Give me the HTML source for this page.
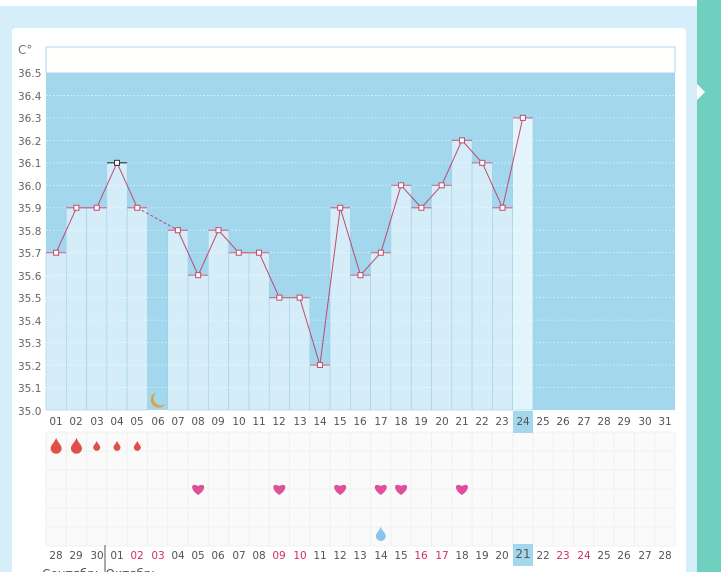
<!DOCTYPE html>
<html><head><meta charset="utf-8"><style>
html,body{margin:0;padding:0;background:#d6eef9;width:721px;height:572px;overflow:hidden;font-family:"DejaVu Sans","Liberation Sans",sans-serif;}
</style></head><body>
<svg id="s" width="721" height="572" xmlns="http://www.w3.org/2000/svg" style="position:absolute;left:0;top:0">
<rect x="0" y="0" width="721" height="572" fill="#d6eef9"/>
<rect x="0" y="0" width="721" height="6" fill="#ffffff"/>
<rect x="12" y="28" width="674" height="560" rx="4" fill="#ffffff"/>
<rect x="697" y="0" width="24" height="572" fill="#6fd0bf"/>
<polygon points="697,84 705,92 697,100" fill="#ffffff"/>
<rect x="46" y="47" width="629" height="26" fill="#fefefc" stroke="#a9d9ef" stroke-width="1"/>
<rect x="46" y="73" width="629" height="337" fill="#a2d7ee"/>
<rect x="46" y="432" width="629" height="114" fill="#fafafa"/>
<g id="g"></g>
<g font-size="10.5" fill="#666" font-family="DejaVu Sans, sans-serif">
<text x="18" y="54" font-size="12" fill="#777">C°</text>
<text x="18" y="77">36.5</text><text x="18" y="100">36.4</text><text x="18" y="122">36.3</text>
<text x="18" y="145">36.2</text><text x="18" y="167">36.1</text><text x="18" y="190">36.0</text>
<text x="18" y="212">35.9</text><text x="18" y="235">35.8</text><text x="18" y="257">35.7</text>
<text x="18" y="280">35.6</text><text x="18" y="302">35.5</text><text x="18" y="325">35.4</text>
<text x="18" y="347">35.3</text><text x="18" y="370">35.2</text><text x="18" y="392">35.1</text>
<text x="18" y="415">35.0</text>
</g>
<rect x="513" y="411" width="20" height="22" fill="#a2d7ee"/>
<rect x="513" y="544" width="20" height="22" fill="#a2d7ee"/>
<line x1="105" y1="545" x2="105" y2="572" stroke="#555" stroke-width="1"/>
<g font-size="10.5" fill="#555" text-anchor="middle" font-family="DejaVu Sans, sans-serif">
<text x="56" y="425">01</text><text x="76" y="425">02</text><text x="97" y="425">03</text><text x="117" y="425">04</text><text x="137" y="425">05</text><text x="158" y="425">06</text><text x="178" y="425">07</text><text x="198" y="425">08</text><text x="218" y="425">09</text><text x="239" y="425">10</text><text x="259" y="425">11</text><text x="279" y="425">12</text><text x="300" y="425">13</text><text x="320" y="425">14</text><text x="340" y="425">15</text><text x="360" y="425">16</text><text x="381" y="425">17</text><text x="401" y="425">18</text><text x="421" y="425">19</text><text x="442" y="425">20</text><text x="462" y="425">21</text><text x="482" y="425">22</text><text x="502" y="425">23</text><text x="523" y="425">24</text><text x="543" y="425">25</text><text x="563" y="425">26</text><text x="584" y="425">27</text><text x="604" y="425">28</text><text x="624" y="425">29</text><text x="645" y="425">30</text><text x="665" y="425">31</text>
<text x="56" y="559">28</text><text x="76" y="559">29</text><text x="97" y="559">30</text><text x="117" y="559">01</text><text x="137" y="559" fill="#d0306a">02</text><text x="158" y="559" fill="#d0306a">03</text><text x="178" y="559">04</text><text x="198" y="559">05</text><text x="218" y="559">06</text><text x="239" y="559">07</text><text x="259" y="559">08</text><text x="279" y="559" fill="#d0306a">09</text><text x="300" y="559" fill="#d0306a">10</text><text x="320" y="559">11</text><text x="340" y="559">12</text><text x="360" y="559">13</text><text x="381" y="559">14</text><text x="401" y="559">15</text><text x="421" y="559" fill="#d0306a">16</text><text x="442" y="559" fill="#d0306a">17</text><text x="462" y="559">18</text><text x="482" y="559">19</text><text x="502" y="559">20</text><text x="523" y="558" font-size="12">21</text><text x="543" y="559">22</text><text x="563" y="559" fill="#d0306a">23</text><text x="584" y="559" fill="#d0306a">24</text><text x="604" y="559">25</text><text x="624" y="559">26</text><text x="645" y="559">27</text><text x="665" y="559">28</text>
<text x="72" y="578" font-size="12">Сентябрь</text><text x="132" y="578" font-size="12">Октябрь</text>
</g>
</svg>
<script>
var g=document.getElementById('g'),ns='http://www.w3.org/2000/svg';
function el(t,a){var e=document.createElementNS(ns,t);for(var k in a)e.setAttribute(k,a[k]);g.appendChild(e);return e;}
var w=629/31;function L(i){return 46+(i-1)*w;}function C(i){return L(i)+w/2;}function Y(v){return 410-(v-35)*224.7;}
var v=[35.7,35.9,35.9,36.1,35.9,null,35.8,35.6,35.8,35.7,35.7,35.5,35.5,35.2,35.9,35.6,35.7,36.0,35.9,36.0,36.2,36.1,35.9,36.3];
for(var i=1;i<=24;i++){if(v[i-1]==null)continue;el('rect',{x:L(i),y:Y(v[i-1]),width:w,height:410-Y(v[i-1]),fill:i==24?'#e4f4fc':'#d4edf9',stroke:'#9fcfe6','stroke-width':0.6});}
for(var k=1;k<15;k++){el('line',{x1:46,x2:675,y1:Y(35+k*0.1),y2:Y(35+k*0.1),stroke:'#ffffff','stroke-width':0.8,'stroke-dasharray':'1.5,2',opacity:0.7});}
for(var c=0;c<=31;c++)el('line',{x1:L(c+1),x2:L(c+1),y1:432,y2:546,stroke:'#f0f0f0'});
for(var r=0;r<=6;r++)el('line',{x1:46,x2:675,y1:432+r*19,y2:432+r*19,stroke:'#f0f0f0'});
var pts=[];for(var i=1;i<=24;i++){if(v[i-1]==null)continue;pts.push([C(i),Y(v[i-1])]);}
for(var j=0;j<pts.length-1;j++){var dash=(pts[j+1][0]-pts[j][0]>w*1.5);el('line',{x1:pts[j][0],y1:pts[j][1],x2:pts[j+1][0],y2:pts[j+1][1],stroke:'#c04a6e','stroke-width':1,'stroke-dasharray':dash?'3,2':'none'});}
for(var i=1;i<=24;i++){if(v[i-1]==null)continue;var y=Y(v[i-1]);el('line',{x1:L(i),x2:L(i)+w,y1:y,y2:y,stroke:i==4?'#333':'#d0708f','stroke-width':1.2});el('rect',{x:C(i)-2.5,y:y-2.5,width:5,height:5,fill:'#fff',stroke:i==4?'#333':'#c04a6e','stroke-width':1});}
el('path',{d:'M'+(C(6)-1)+',392 a8,8 0 1,0 9,12 a6.5,6.5 0 1,1 -9,-12z',fill:'#e0a040'});
function drop(x,y,s,col){el('path',{d:'M'+x+','+(y-s*1.5)+' C'+(x+s*0.3)+','+(y-s*0.6)+' '+(x+s)+','+(y-s*0.2)+' '+(x+s)+','+(y+s*0.4)+' A'+s+','+s+' 0 1,1 '+(x-s)+','+(y+s*0.4)+' C'+(x-s)+','+(y-s*0.2)+' '+(x-s*0.3)+','+(y-s*0.6)+' '+x+','+(y-s*1.5)+'z',fill:col});}
drop(C(1),446,5.5,'#e0504a');drop(C(2),446,5.5,'#e0504a');drop(C(3),446,3.5,'#e0504a');drop(C(4),446,3.5,'#e0504a');drop(C(5),446,3.5,'#e0504a');
drop(C(17),534,5,'#8ac4ec');
[8,12,15,17,18,21].forEach(function(i){var x=C(i),y=489;el('path',{d:'M'+x+','+(y+6)+' C'+(x-9)+','+(y)+' '+(x-7)+','+(y-7)+' '+x+','+(y-3)+' C'+(x+7)+','+(y-7)+' '+(x+9)+','+y+' '+x+','+(y+6)+'z',fill:'#e0509a'});});
</script>
</body></html>
